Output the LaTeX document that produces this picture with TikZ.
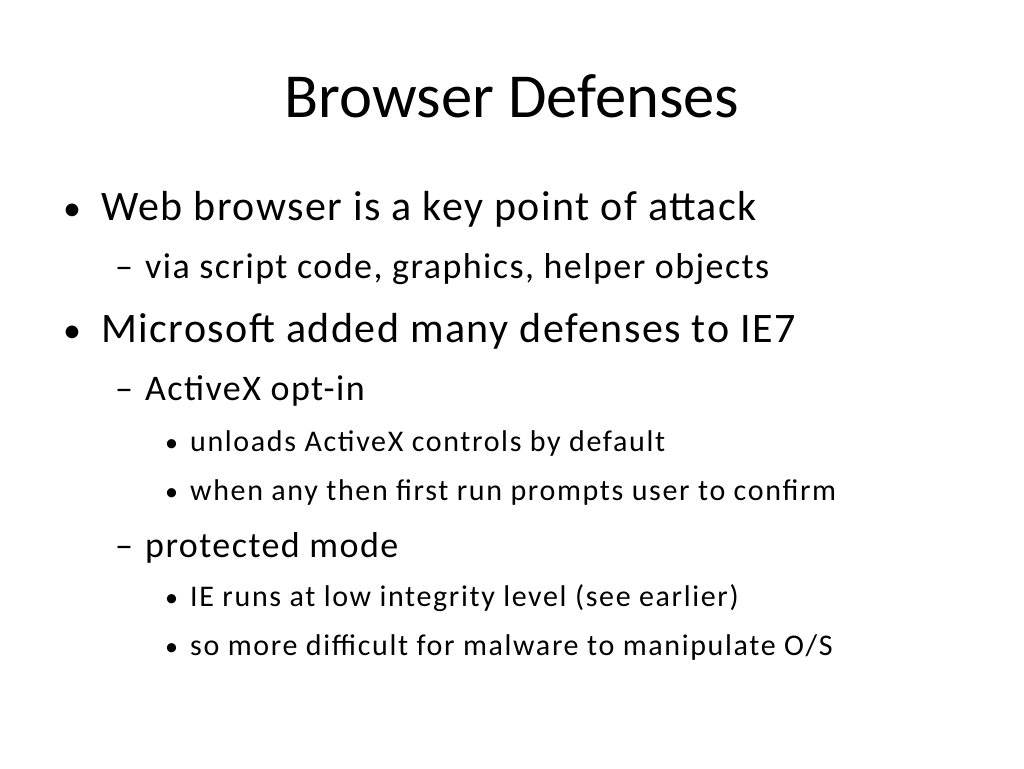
\documentclass[tikz,border=0pt]{standalone}
\usepackage{fontspec}
\setmainfont{Carlito}
\newfontfamily\fa[LetterSpace=3.5]{Carlito}
\newfontfamily\fb[LetterSpace=4.0]{Carlito}
\newfontfamily\fc[LetterSpace=5.5]{Carlito}
\begin{document}
\begin{tikzpicture}[x=1pt,y=-1pt,
  lone/.style={anchor=base west,inner sep=0,font=\fa\fontsize{42}{48}\selectfont},
  ltwo/.style={anchor=base west,inner sep=0,font=\fb\fontsize{36}{40}\selectfont},
  lthree/.style={anchor=base west,inner sep=0,font=\fc\fontsize{30}{34}\selectfont},
  bone/.style={anchor=base west,inner sep=0,font=\fontsize{36}{40}\selectfont},
  bthree/.style={anchor=base west,inner sep=0,font=\fontsize{26}{30}\selectfont}]
\useasboundingbox (0,0) rectangle (1024,768);
\node[anchor=base,inner sep=0,font=\fontsize{62.6}{70}\selectfont] (title) at (512,117) {Browser Defenses};
\node[bone] (b1) at (63,220) {•};
\node[lone] (t1) at (101,220) {Web browser is a key point of attack};
\node[ltwo] (d1) at (115,278) {–};
\node[ltwo] (t2) at (145,278) {via script code, graphics, helper objects};
\node[bone] (b2) at (63,342) {•};
\node[lone] (t3) at (101,342) {Microsoft added many defenses to IE7};
\node[ltwo] (d2) at (115,400) {–};
\node[ltwo] (t4) at (145,400) {ActiveX opt-in};
\node[bthree] (b3) at (165,451) {•};
\node[lthree] (t5) at (190,451) {unloads ActiveX controls by default};
\node[bthree] (b4) at (165,500) {•};
\node[lthree] (t6) at (190,500) {when any then first run prompts user to confirm};
\node[ltwo] (d3) at (115,557) {–};
\node[ltwo] (t7) at (145,557) {protected mode};
\node[bthree] (b5) at (165,606) {•};
\node[lthree] (t8) at (190,606) {IE runs at low integrity level (see earlier)};
\node[bthree] (b6) at (165,655) {•};
\node[lthree] (t9) at (190,655) {so more difficult for malware to manipulate O/S};
\end{tikzpicture}
\end{document}
